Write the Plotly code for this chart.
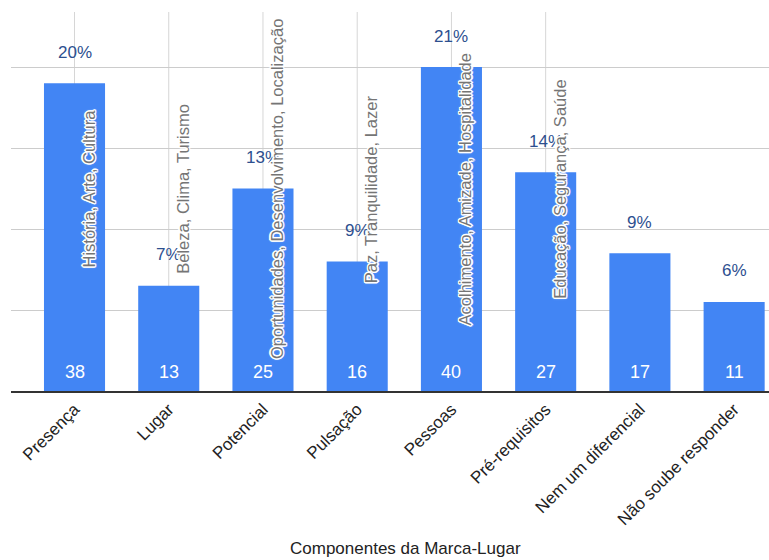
import plotly.graph_objects as go

categories = ["Presença", "Lugar", "Potencial", "Pulsação", "Pessoas",
              "Pré-requisitos", "Nem um diferencial", "Não soube responder"]
counts = [38, 13, 25, 16, 40, 27, 17, 11]
percents = ["20%", "7%", "13%", "9%", "21%", "14%", "9%", "6%"]
notes = ["História, Arte, Cultura", "Beleza, Clima, Turismo",
         "Oportunidades, Desenvolvimento, Localização", "Paz, Tranquilidade, Lazer",
         "Acolhimento, Amizade, Hospitalidade", "Educação, Segurança, Saúde", None, None]
x_title = "Componentes da Marca-Lugar"

FONT = "Arial, Liberation Sans, sans-serif"
BLUE = "#4285F4"
halo = ("-1px -1px 0 #fff, 1px -1px 0 #fff, -1px 1px 0 #fff, 1px 1px 0 #fff, "
        "0 -1.5px 0 #fff, 0 1.5px 0 #fff, -1.5px 0 0 #fff, 1.5px 0 0 #fff, 0 0 3px #fff")

fig = go.Figure()
fig.add_trace(go.Bar(x=categories, y=counts, marker=dict(color=BLUE, line=dict(width=0)),
                     width=0.648, hoverinfo="skip"))

annotations = []
shapes = []
for i, (c, v, p, n) in enumerate(zip(categories, counts, percents, notes)):
    annotations.append(dict(x=c, y=v, xref="x", yref="y", text=p, showarrow=False,
                            yanchor="middle", yshift=31,
                            font=dict(family=FONT, size=17, color="#2d4f8f")))
    annotations.append(dict(x=c, y=0, xref="x", yref="y", text=str(v), showarrow=False,
                            yanchor="middle", yshift=19,
                            font=dict(family=FONT, size=18, color="#ffffff")))
    if n:
        shapes.append(dict(type="line", xref="x", yref="paper", x0=c, x1=c, y0=0, y1=1,
                           line=dict(color="#d6d6d6", width=1), layer="below"))
        annotations.append(dict(x=c, y=0.533, xref="x", yref="paper", text=n, showarrow=False,
                                textangle=-90, xshift=14, yanchor="middle", xanchor="center",
                                font=dict(family=FONT, size=16.5, color="#757575", shadow=halo)))

annotations.append(dict(x=0.52, y=-0.416, xref="paper", yref="paper", text=x_title,
                        showarrow=False, yanchor="middle",
                        font=dict(family=FONT, size=17, color="#222")))

fig.update_layout(
    width=769, height=560,
    margin=dict(l=11, r=0, t=12, b=169),
    plot_bgcolor="white", paper_bgcolor="white",
    showlegend=False,
    annotations=annotations, shapes=shapes,
    xaxis=dict(range=[-0.674, 7.37], showgrid=False, showline=True, linecolor="#333",
               linewidth=1.5, tickangle=-45, ticks="",
               tickfont=dict(family=FONT, size=17, color="#222")),
    yaxis=dict(range=[0, 46.8], dtick=10, showgrid=True, gridcolor="#cccccc",
               showticklabels=False, zeroline=False, showline=False),
)

fig.write_html("out.html")
